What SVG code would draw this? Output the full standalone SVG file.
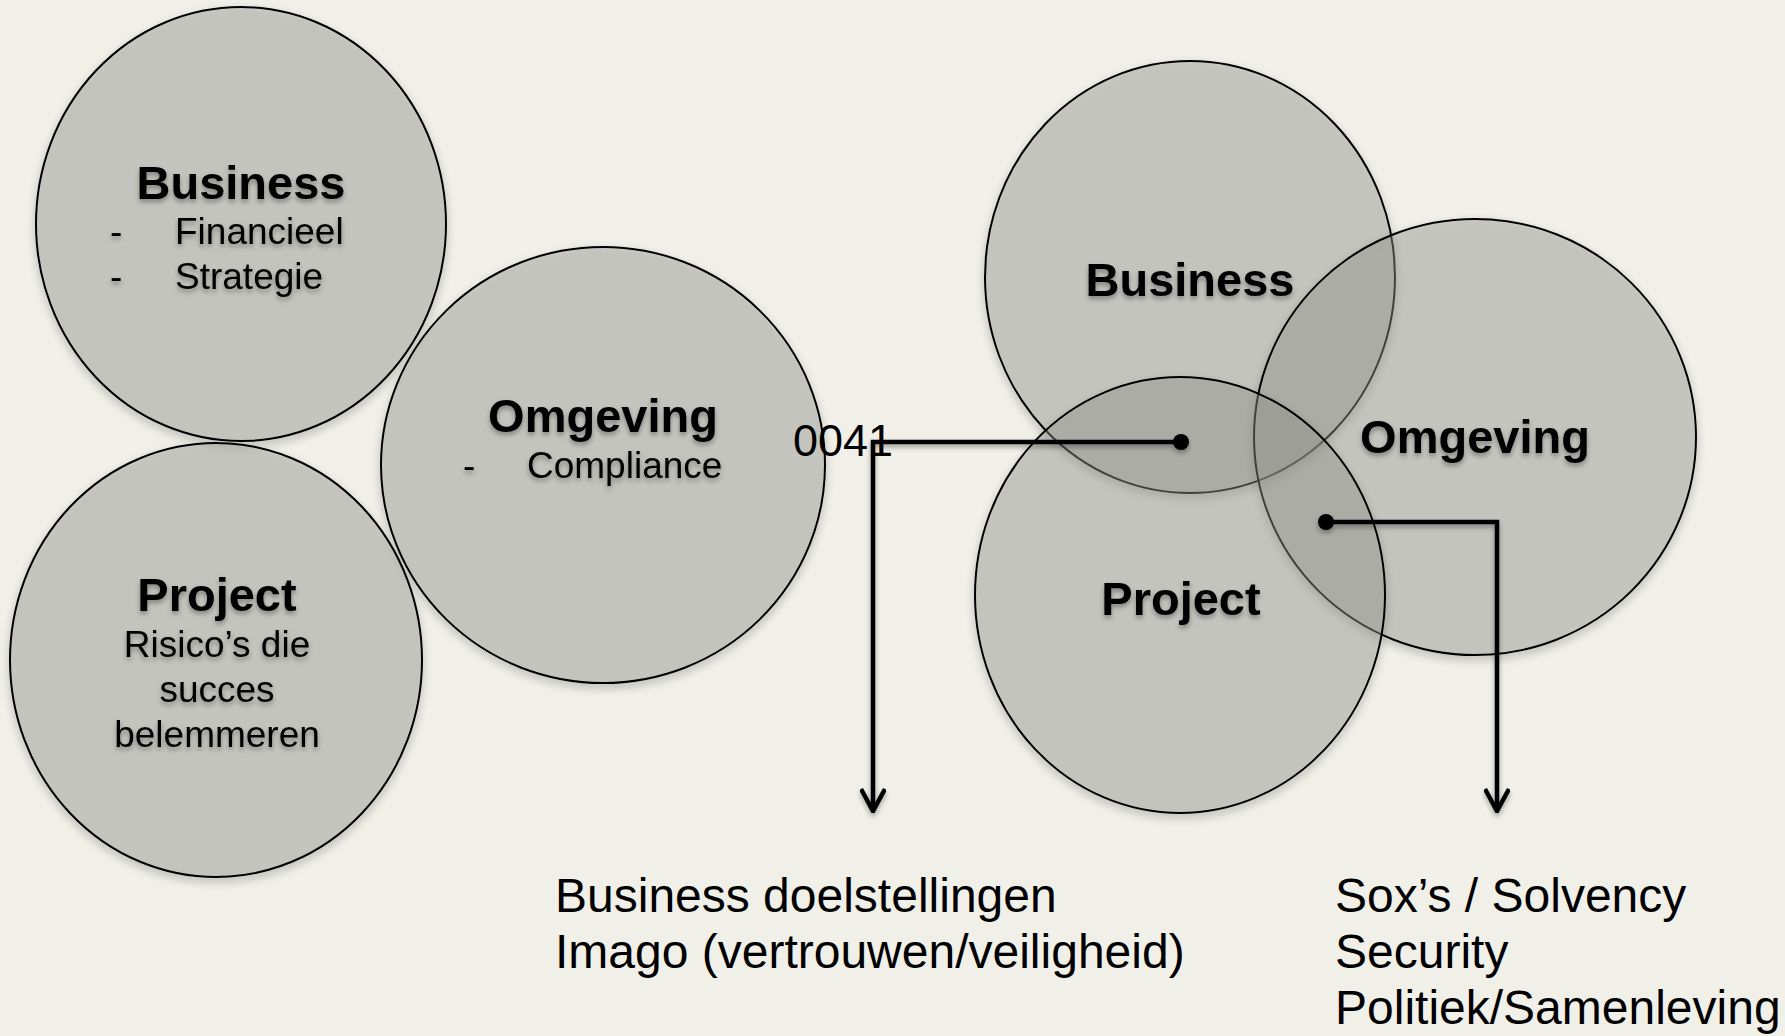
<svg xmlns="http://www.w3.org/2000/svg" width="1785" height="1036" viewBox="0 0 1785 1036">
<style>
.c{fill:rgb(150,150,146);fill-opacity:0.4;stroke:#000;stroke-width:2}
.t{font-family:"Liberation Sans",Arial,sans-serif;fill:#000}
.h{font-size:47px;font-weight:bold;text-anchor:middle}
.s{font-size:37px}
.m{text-anchor:middle}
.b{font-size:48px}
.ln{fill:none;stroke:#000;stroke-width:4.5}
</style>
<defs>
<filter id="sh" x="-20%" y="-20%" width="140%" height="140%">
<feGaussianBlur in="SourceAlpha" stdDeviation="4"/>
<feOffset dy="4" result="b"/>
<feComposite in="b" in2="SourceAlpha" operator="out" result="o"/>
<feComponentTransfer in="o" result="o2"><feFuncA type="linear" slope="0.35"/></feComponentTransfer>
<feMerge><feMergeNode in="o2"/><feMergeNode in="SourceGraphic"/></feMerge>
</filter>
<filter id="ts" x="-20%" y="-30%" width="140%" height="160%">
<feDropShadow dx="0" dy="3" stdDeviation="2.5" flood-color="#000" flood-opacity="0.35"/>
</filter>
<marker id="ar" viewBox="0 0 26 26" refX="24" refY="13" markerWidth="26" markerHeight="26" markerUnits="userSpaceOnUse" orient="auto">
<path d="M2,1 L24,13 L2,25" fill="none" stroke="#000" stroke-width="4.5"/>
</marker>
</defs>
<rect width="1785" height="1036" fill="#f0f0e9"/>

<g id="left-business">
<ellipse class="c" filter="url(#sh)" cx="241" cy="224" rx="205" ry="217"/>
<g class="t" filter="url(#ts)">
<text class="h" x="241" y="199">Business</text>
<text class="s" x="110" y="244">-</text><text class="s" x="175" y="244">Financieel</text>
<text class="s" x="110" y="289">-</text><text class="s" x="175" y="289">Strategie</text>
</g>
</g>

<g id="left-omgeving">
<ellipse class="c" filter="url(#sh)" cx="603" cy="465" rx="222" ry="218"/>
<g class="t" filter="url(#ts)">
<text class="h" x="603" y="432">Omgeving</text>
<text class="s" x="463" y="478">-</text><text class="s" x="527" y="478">Compliance</text>
</g>
</g>

<g id="left-project">
<ellipse class="c" filter="url(#sh)" cx="216" cy="660" rx="206" ry="217"/>
<g class="t" filter="url(#ts)">
<text class="h" x="217" y="611">Project</text>
<text class="s m" x="217" y="657">Risico’s die</text>
<text class="s m" x="217" y="702">succes</text>
<text class="s m" x="217" y="747">belemmeren</text>
</g>
</g>

<g id="right-business">
<ellipse class="c" filter="url(#sh)" cx="1190" cy="277" rx="205" ry="216"/>
<text class="t h" filter="url(#ts)" x="1190" y="296">Business</text>
</g>

<g id="right-omgeving">
<ellipse class="c" filter="url(#sh)" cx="1475" cy="437" rx="221" ry="218"/>
<text class="t h" filter="url(#ts)" x="1475" y="453">Omgeving</text>
</g>

<g id="right-project">
<ellipse class="c" filter="url(#sh)" cx="1180" cy="595" rx="205" ry="218"/>
<text class="t h" filter="url(#ts)" x="1181" y="615">Project</text>
</g>

<text class="t" x="793" y="456" font-size="45">0041</text>

<g id="connectors" filter="url(#ts)">
<path class="ln" d="M1181,442 H873 V811" marker-end="url(#ar)"/>
<circle cx="1181" cy="442" r="8" fill="#000"/>
<path class="ln" d="M1326,522 H1497 V811" marker-end="url(#ar)"/>
<circle cx="1326" cy="522" r="8" fill="#000"/>
</g>

<g id="label-left" class="t b">
<text x="555" y="912">Business doelstellingen</text>
<text x="555" y="968">Imago (vertrouwen/veiligheid)</text>
</g>
<g id="label-right" class="t b">
<text x="1335" y="912">Sox’s / Solvency</text>
<text x="1335" y="968">Security</text>
<text x="1335" y="1024">Politiek/Samenleving</text>
</g>
</svg>
